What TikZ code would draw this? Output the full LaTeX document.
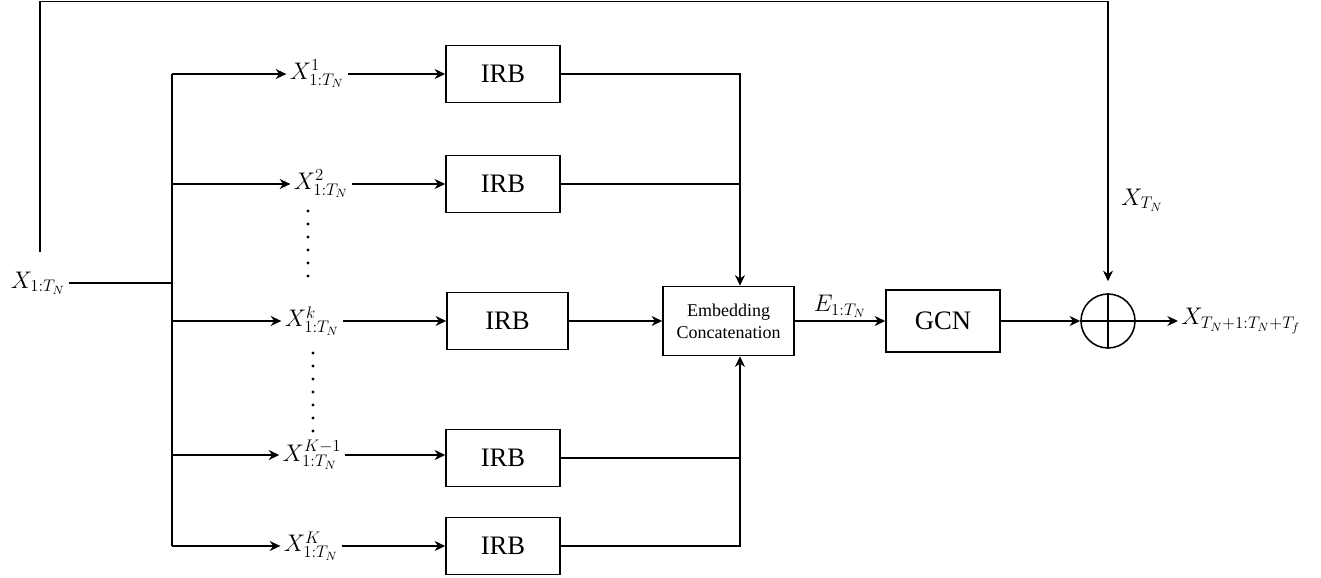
\RequirePackage{fix-cm}
\documentclass[tikz,border=0pt]{standalone}
\usepackage{fontspec}
\setmainfont{Liberation Serif}
\newfontfamily\boxfont{Liberation Serif}
\usetikzlibrary{arrows.meta}
\begin{document}
\begin{tikzpicture}[x=0.75pt, y=-0.75pt, line width=1.15pt,
		>={Stealth[length=8pt,width=7.5pt]},
		irb/.style={draw, minimum width=85.5pt, minimum height=42.75pt, font=\boxfont\fontsize{20}{24}\selectfont},
		lbl/.style={inner sep=2pt, font=\fontsize{18}{22}\selectfont}]
		\useasboundingbox (0,0) rectangle (1321,578);
		
		\node (xin) [lbl] at (38,283) {$X_{1:T_N}$};
		\node (x1) [lbl] at (317,74) {$X^{1}_{1:T_N}$};
		\node (x2) [lbl] at (321,184) {$X^{2}_{1:T_N}$};
		\node (xk) [lbl] at (312,321) {$X^{k}_{1:T_N}$};
		\node (xkm) [lbl] at (312,455) {$X^{K-1}_{1:T_N}$};
		\node (xK) [lbl] at (311,546) {$X^{K}_{1:T_N}$};
		
		\node (irb1) [irb] at (503,74) {IRB};
		\node (irb2) [irb] at (503,184) {IRB};
		\node (irb3) [irb, minimum width=90.75pt] at (507.5,321) {IRB};
		\node (irb4) [irb] at (503,458) {IRB};
		\node (irb5) [irb] at (503,546) {IRB};
		
		\node (emb) [draw, minimum width=98.25pt, minimum height=51.75pt, align=center, font=\boxfont\fontsize{13.5}{16.5}\selectfont] at (728.5,321) {Embedding\\Concatenation};
		\node (gcn) [irb, minimum height=46.5pt] at (943,321) {GCN};
		\node (sum) [draw, circle, minimum size=40.5pt, inner sep=0pt] at (1108,321) {};
		\node (xtn) [lbl] at (1142,200) {$X_{T_N}$};
		\node (xout) [lbl, anchor=west] at (1178,321) {$X_{T_N+1:T_N+T_f}$};
		
		\coordinate (b1) at (172,74);
		\coordinate (b5) at (172,546);
		\coordinate (tap) at (40,252);
		\coordinate (top) at (40,1.5);
		\coordinate (mtop) at ([xshift=8.6pt]emb.north);
		\coordinate (mbot) at ([xshift=8.6pt]emb.south);
		
		\draw (b1) -- (b5);
		\draw (xin.east) -- (xin.east -| b1);
		\draw[->] (b1) -- (x1.west);
		\draw[->] (x2.west -| b1) -- (x2.west);
		\draw[->] (xk.west -| b1) -- (xk.west);
		\draw[->] (xkm.west -| b1) -- (xkm.west);
		\draw[->] (xK.west -| b1) -- (xK.west);
		
		\draw[->] (x1) -- (irb1);
		\draw[->] (x2) -- (irb2);
		\draw[->] (xk) -- (irb3);
		\draw[->] (xkm.east) -- (xkm.east -| irb4.west);
		\draw[->] (xK) -- (irb5);
		
		\foreach \y in {211,224,...,276} \fill (308,\y) circle (1.2pt);
		\foreach \y in {353,366,...,431} \fill (313,\y) circle (1.2pt);
		
		\draw[->] (irb1.east) -| (mtop);
		\draw (irb2.east) -- (irb2.east -| mtop);
		\draw[->] (irb3) -- (emb);
		\draw (irb4.east) -- (irb4.east -| mbot);
		\draw[->] (irb5.east) -| (mbot);
		
		\draw[->] (emb) -- node[lbl, above] (e) {$E_{1:T_N}$} (gcn);
		\draw[->] (gcn) -- (sum);
		\draw[->] (sum) -- (xout);
		\draw (sum.north) -- (sum.south) (sum.west) -- (sum.east);
		\draw[->, shorten >=9pt] (tap) -- (top) -| (sum);
	\end{tikzpicture}
\end{document}
